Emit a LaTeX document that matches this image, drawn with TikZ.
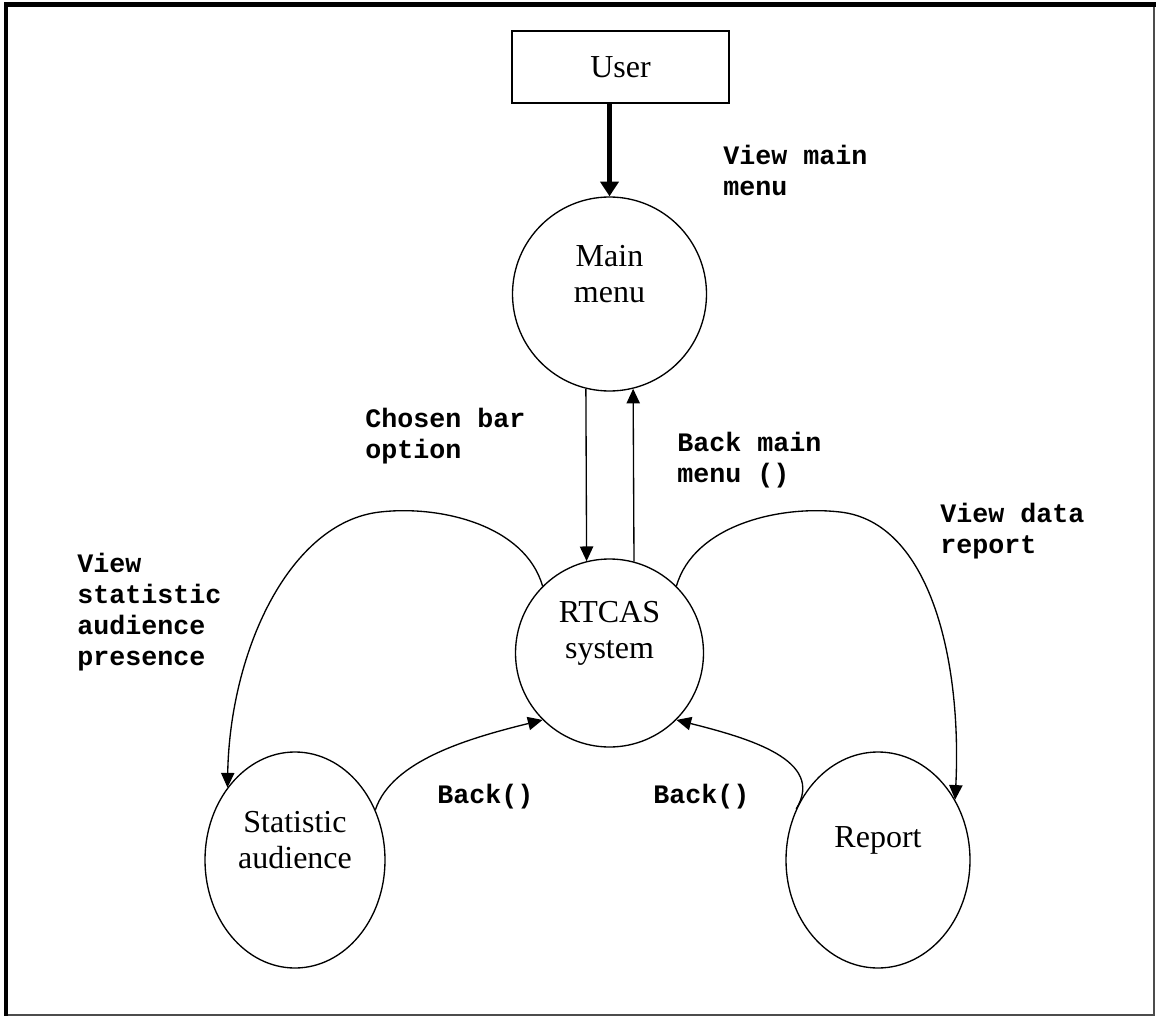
\documentclass[tikz,border=0pt]{standalone}
\usepackage{fontspec}
\setmainfont{Liberation Serif}
\setmonofont{Liberation Mono}
\usetikzlibrary{%
    arrows.meta,
    positioning,
    shapes.geometric
}

\tikzset{
    procbox/.style={draw, line width=1pt, minimum width=162.75pt,
                    minimum height=54pt, font=\fontsize{24}{27}\selectfont},
    proc/.style={circle, draw, line width=1pt, minimum size=#1},
    procoval/.style={ellipse, draw, line width=1pt,
                     minimum width=#1, minimum height=162pt},
    ptext/.style={align=center, yshift=15pt,
                  font=\fontsize{24}{27}\selectfont},
    flowlabel/.style={anchor=north west, align=left, inner sep=0pt,
                      font=\fontsize{20}{23.25}\selectfont\ttfamily\bfseries},
    flow/.style={line width=1pt, -{Triangle[width=10pt,length=11pt]}},
    thickflow/.style={line width=3.5pt, -{Triangle[width=13.5pt,length=11pt]}}
}

\begin{document}
\begin{tikzpicture}[x=0.75pt, y=-0.75pt]
    \useasboundingbox (0,0) rectangle (1156,1016);

    % page frame
    \draw[line width=0.8pt, black!70] (6,5) rectangle (1154,1015);
    \draw[line width=3.5pt] (6,1016) -- (6,4.5) -- (1156,4.5);

    % processes
    \node[procbox] (user) at (620.5,67) {User};
    \node[proc=145.5pt, label={[ptext]center:Main\\menu}]     (mainmenu) at (609.5,294) {};
    \node[proc=141pt,   label={[ptext]center:RTCAS\\system}]  (rtcas)    at (609.5,653) {};
    \node[procoval=135pt, label={[ptext]center:Statistic\\audience}] (stat)   at (295,860) {};
    \node[procoval=138pt, label={[ptext]center:Report}]              (report) at (878,860) {};

    % flows
    \draw[thickflow] (user.south -| mainmenu.north) -- (mainmenu.north);
    \draw[flow] (mainmenu.256) -- (rtcas.104.5);
    \draw[flow] (rtcas.75.5) -- (mainmenu.284);

    \draw[flow] (rtcas.135) .. controls (525,525) and (440,505) .. (380,512)
                            .. controls (290,522) and (230,650) .. (stat.133);
    \draw[flow] (rtcas.45) .. controls (694,525) and (780,505) .. (840,512)
                           .. controls (930,522) and (962,660) .. (report.38);

    \draw[flow] (stat.32) .. controls (392,760) and (470,738) .. (rtcas.-135);
    \draw[flow] (report.148) .. controls (826,760) and (748,738) .. (rtcas.-45);

    % flow labels
    \node[flowlabel] (lbl-viewmain) at (723,145) {View main\\menu};
    \node[flowlabel] (lbl-chosen)   at (365,408) {Chosen bar\\option};
    \node[flowlabel] (lbl-backmain) at (677,432) {Back main\\menu ()};
    \node[flowlabel] (lbl-viewdata) at (940,503) {View data\\report};
    \node[flowlabel] (lbl-viewstat) at (77,553)  {View\\statistic\\audience\\presence};
    \node[flowlabel] (lbl-backstat) at (437,784) {Back()};
    \node[flowlabel] (lbl-backrep)  at (653,784) {Back()};
\end{tikzpicture}
\end{document}
